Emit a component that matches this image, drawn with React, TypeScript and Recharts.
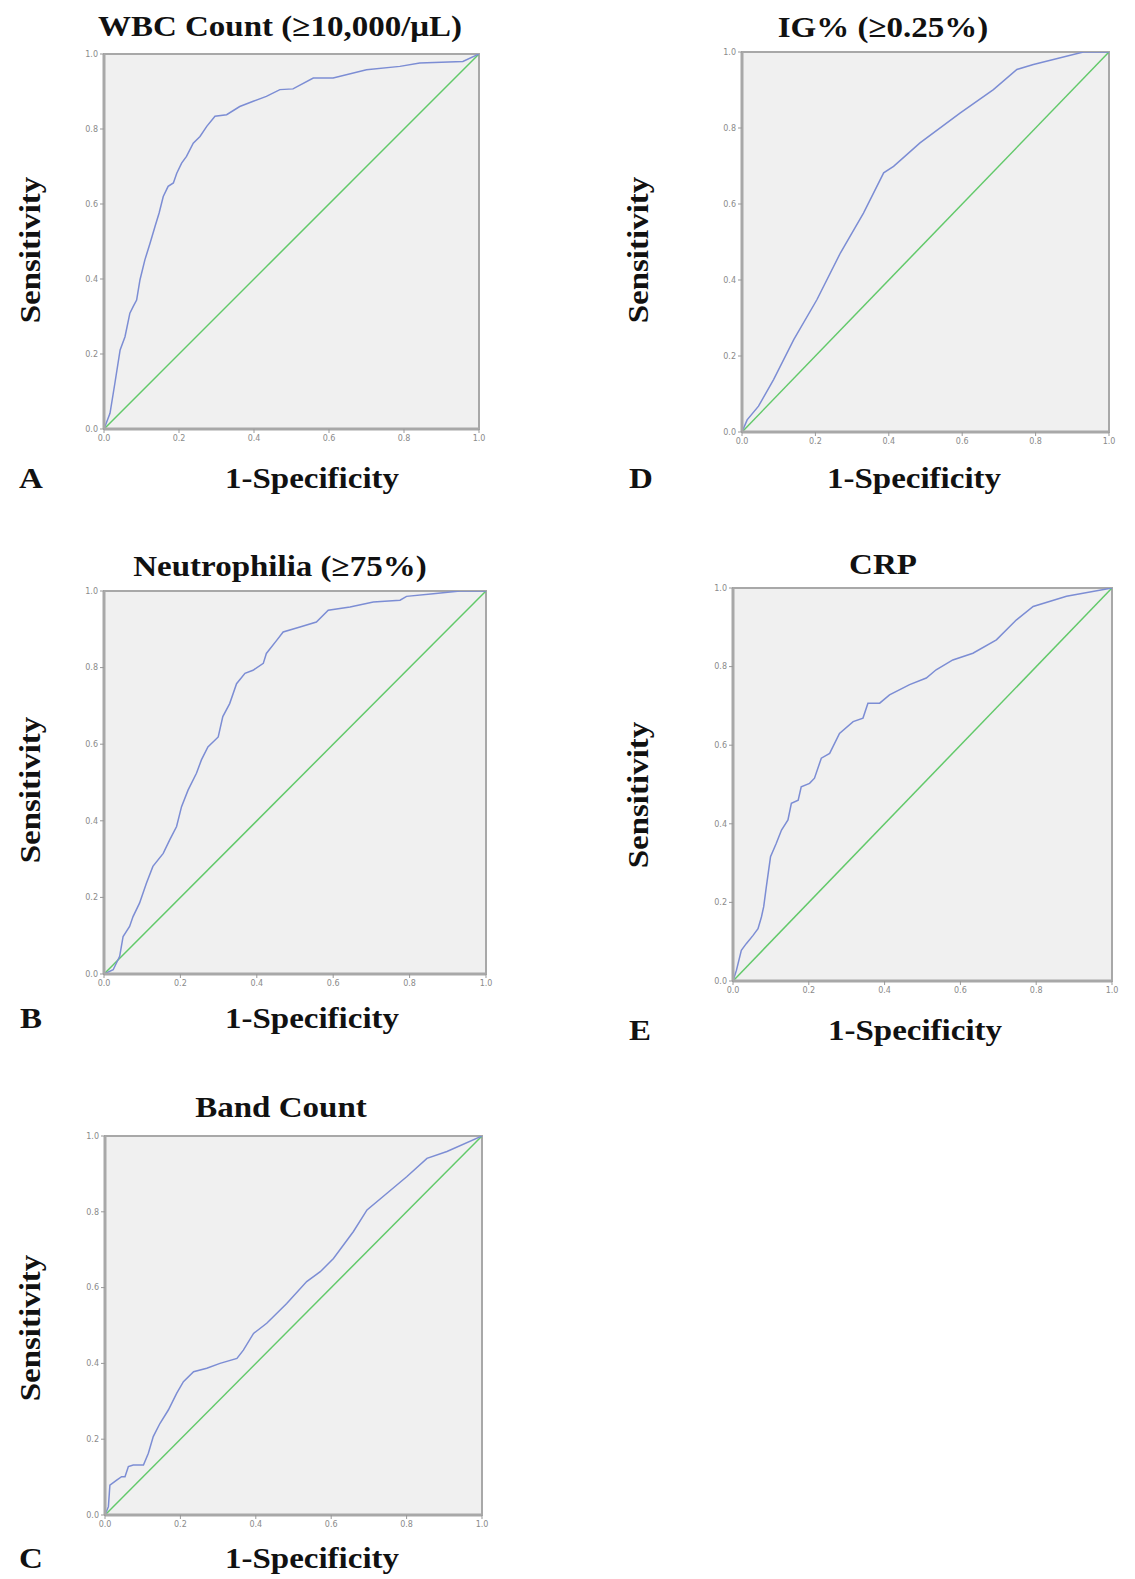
import React from 'react';
import { LineChart, Line, XAxis, YAxis, ReferenceArea } from 'recharts';

// Shared axis ticks
const axisTicks = [0, 0.2, 0.4, 0.6, 0.8, 1.0];

// Reference (chance) diagonal
const diagX = [0, 1];
const diagY = [0, 1];

// A: WBC Count
const wbcX = [0, 0.016, 0.029, 0.043, 0.056, 0.069, 0.078, 0.087, 0.096, 0.109, 0.123, 0.136, 0.147, 0.158, 0.171, 0.185, 0.194, 0.207, 0.22, 0.238, 0.256, 0.274, 0.296, 0.327, 0.362, 0.398, 0.433, 0.469, 0.504, 0.558, 0.611, 0.7, 0.789, 0.842, 0.957, 1];
const wbcY = [0, 0.042, 0.122, 0.211, 0.246, 0.309, 0.327, 0.344, 0.398, 0.451, 0.496, 0.54, 0.576, 0.62, 0.647, 0.656, 0.682, 0.709, 0.727, 0.762, 0.78, 0.807, 0.834, 0.838, 0.86, 0.874, 0.887, 0.905, 0.907, 0.936, 0.936, 0.958, 0.967, 0.976, 0.98, 1];

// B: Neutrophilia
const neuX = [0, 0.024, 0.041, 0.05, 0.067, 0.076, 0.093, 0.111, 0.128, 0.155, 0.172, 0.19, 0.203, 0.22, 0.242, 0.255, 0.272, 0.299, 0.311, 0.329, 0.347, 0.369, 0.39, 0.417, 0.425, 0.452, 0.469, 0.513, 0.556, 0.587, 0.644, 0.705, 0.775, 0.792, 0.862, 0.932, 1];
const neuY = [0, 0.011, 0.046, 0.098, 0.124, 0.15, 0.185, 0.237, 0.281, 0.315, 0.35, 0.385, 0.437, 0.48, 0.524, 0.559, 0.593, 0.619, 0.672, 0.706, 0.758, 0.785, 0.793, 0.811, 0.837, 0.871, 0.893, 0.906, 0.919, 0.95, 0.958, 0.971, 0.976, 0.986, 0.993, 1, 1];

// C: Band Count
const bandX = [0, 0.009, 0.013, 0.031, 0.044, 0.053, 0.062, 0.075, 0.102, 0.115, 0.128, 0.146, 0.168, 0.19, 0.208, 0.235, 0.27, 0.305, 0.35, 0.367, 0.394, 0.429, 0.482, 0.535, 0.571, 0.606, 0.659, 0.695, 0.748, 0.801, 0.854, 0.907, 1];
const bandY = [0, 0.022, 0.079, 0.092, 0.101, 0.101, 0.128, 0.132, 0.132, 0.163, 0.207, 0.242, 0.277, 0.321, 0.352, 0.378, 0.387, 0.4, 0.413, 0.435, 0.479, 0.506, 0.558, 0.616, 0.642, 0.677, 0.748, 0.805, 0.849, 0.893, 0.941, 0.959, 1];

// D: IG%
const igX = [0, 0.014, 0.045, 0.086, 0.141, 0.204, 0.268, 0.331, 0.386, 0.413, 0.485, 0.594, 0.685, 0.749, 0.794, 0.93, 1];
const igY = [0, 0.032, 0.068, 0.138, 0.243, 0.348, 0.471, 0.576, 0.682, 0.699, 0.761, 0.839, 0.901, 0.954, 0.967, 1, 1];

// E: CRP
const crpX = [0, 0.009, 0.022, 0.035, 0.053, 0.066, 0.075, 0.081, 0.088, 0.099, 0.114, 0.128, 0.145, 0.154, 0.172, 0.18, 0.202, 0.215, 0.233, 0.255, 0.281, 0.317, 0.343, 0.356, 0.387, 0.413, 0.466, 0.51, 0.536, 0.58, 0.633, 0.695, 0.748, 0.792, 0.88, 1];
const crpY = [0, 0.027, 0.078, 0.095, 0.116, 0.133, 0.163, 0.189, 0.24, 0.316, 0.35, 0.384, 0.41, 0.452, 0.46, 0.494, 0.503, 0.516, 0.567, 0.579, 0.63, 0.66, 0.669, 0.707, 0.707, 0.728, 0.754, 0.771, 0.792, 0.817, 0.834, 0.868, 0.919, 0.953, 0.979, 1];

const panelTitles = ['WBC Count (≥10,000/μL)', 'Neutrophilia (≥75%)', 'Band Count', 'IG% (≥0.25%)', 'CRP'];
const panelLetters = ['A', 'B', 'C', 'D', 'E'];
const xLabel = '1-Specificity';
const yLabel = 'Sensitivity';

const FONT = '"Liberation Serif", "Times New Roman", serif';
const BLUE = '#7c8dd4';
const GREEN = '#62c96a';
const FRAME = '#a8a8a8';

type Layout = {
  plot: [number, number, number, number];
  title: [number, number];
  xl: [number, number];
  yl: [number, number];
  letter: [number, number];
};

const layouts: Layout[] = [
  { plot: [104, 54, 375, 375], title: [280, 26], xl: [312, 478], yl: [30, 250], letter: [31, 478] },
  { plot: [104, 591, 382, 383], title: [280, 566], xl: [312, 1018], yl: [30, 790], letter: [31, 1018] },
  { plot: [105, 1136, 377, 379], title: [281, 1107], xl: [312, 1558], yl: [30, 1328], letter: [31, 1558] },
  { plot: [742, 52, 367, 380], title: [883, 27], xl: [914, 478], yl: [638, 250], letter: [641, 478] },
  { plot: [733, 588, 379, 393], title: [883, 564], xl: [915, 1030], yl: [638, 795], letter: [640, 1030] },
];

const series: [number[], number[]][] = [
  [wbcX, wbcY],
  [neuX, neuY],
  [bandX, bandY],
  [igX, igY],
  [crpX, crpY],
];

function Txt({ x, y, text, rotate }: { x: number; y: number; text: string; rotate?: boolean }) {
  return (
    <div
      style={{
        position: 'absolute',
        left: x,
        top: y,
        transform: `translate(-50%, -50%)${rotate ? ' rotate(-90deg)' : ''} scaleX(1.1)`,
        whiteSpace: 'nowrap',
        fontFamily: FONT,
        fontWeight: 'bold',
        fontSize: 30,
        lineHeight: '30px',
        color: '#111',
      }}
    >
      {text}
    </div>
  );
}

function RocPanel({ layout, xs, ys }: { layout: Layout; xs: number[]; ys: number[] }) {
  const [left, top, w, h] = layout.plot;
  const ML = 30;
  const MT = 10;
  const MR = 10;
  const XH = 22;
  const curve = xs.map((x, i) => ({ x, y: ys[i] }));
  const diag = diagX.map((x, i) => ({ x, y: diagY[i] }));
  const tickStyle = { fontSize: 8, fill: '#8a8a8a', fontFamily: '"DejaVu Sans", sans-serif' };
  return (
    <div style={{ position: 'absolute', left: left - ML, top: top - MT }}>
      <LineChart width={w + ML + MR} height={h + MT + XH} margin={{ top: MT, right: MR, bottom: 0, left: 0 }}>
        <XAxis
          type="number"
          dataKey="x"
          domain={[0, 1]}
          ticks={axisTicks}
          height={XH}
          tickFormatter={(v: number) => v.toFixed(1)}
          tick={tickStyle}
          tickSize={4}
          axisLine={{ stroke: FRAME, strokeWidth: 3 }}
          tickLine={{ stroke: '#999' }}
          allowDataOverflow
        />
        <YAxis
          type="number"
          dataKey="y"
          domain={[0, 1]}
          ticks={axisTicks}
          width={ML}
          tickFormatter={(v: number) => v.toFixed(1)}
          tick={tickStyle}
          tickSize={4}
          axisLine={{ stroke: FRAME, strokeWidth: 3 }}
          tickLine={{ stroke: '#999' }}
          allowDataOverflow
        />
        <ReferenceArea x1={0} x2={1} y1={0} y2={1} fill="#f0f0f0" fillOpacity={1} stroke={FRAME} strokeWidth={2} />
        <Line data={diag} dataKey="y" stroke={GREEN} strokeWidth={1.5} dot={false} isAnimationActive={false} type="linear" />
        <Line data={curve} dataKey="y" stroke={BLUE} strokeWidth={1.5} dot={false} isAnimationActive={false} type="linear" />
      </LineChart>
    </div>
  );
}

export default function App() {
  return (
    <div style={{ position: 'absolute', left: 0, top: 0, width: 1135, height: 1579, background: '#fff' }}>
      {layouts.map((l, i) => (
        <React.Fragment key={i}>
          <RocPanel layout={l} xs={series[i][0]} ys={series[i][1]} />
          <Txt x={l.title[0]} y={l.title[1]} text={panelTitles[i]} />
          <Txt x={l.xl[0]} y={l.xl[1]} text={xLabel} />
          <Txt x={l.yl[0]} y={l.yl[1]} text={yLabel} rotate />
          <Txt x={l.letter[0]} y={l.letter[1]} text={panelLetters[i]} />
        </React.Fragment>
      ))}
    </div>
  );
}
